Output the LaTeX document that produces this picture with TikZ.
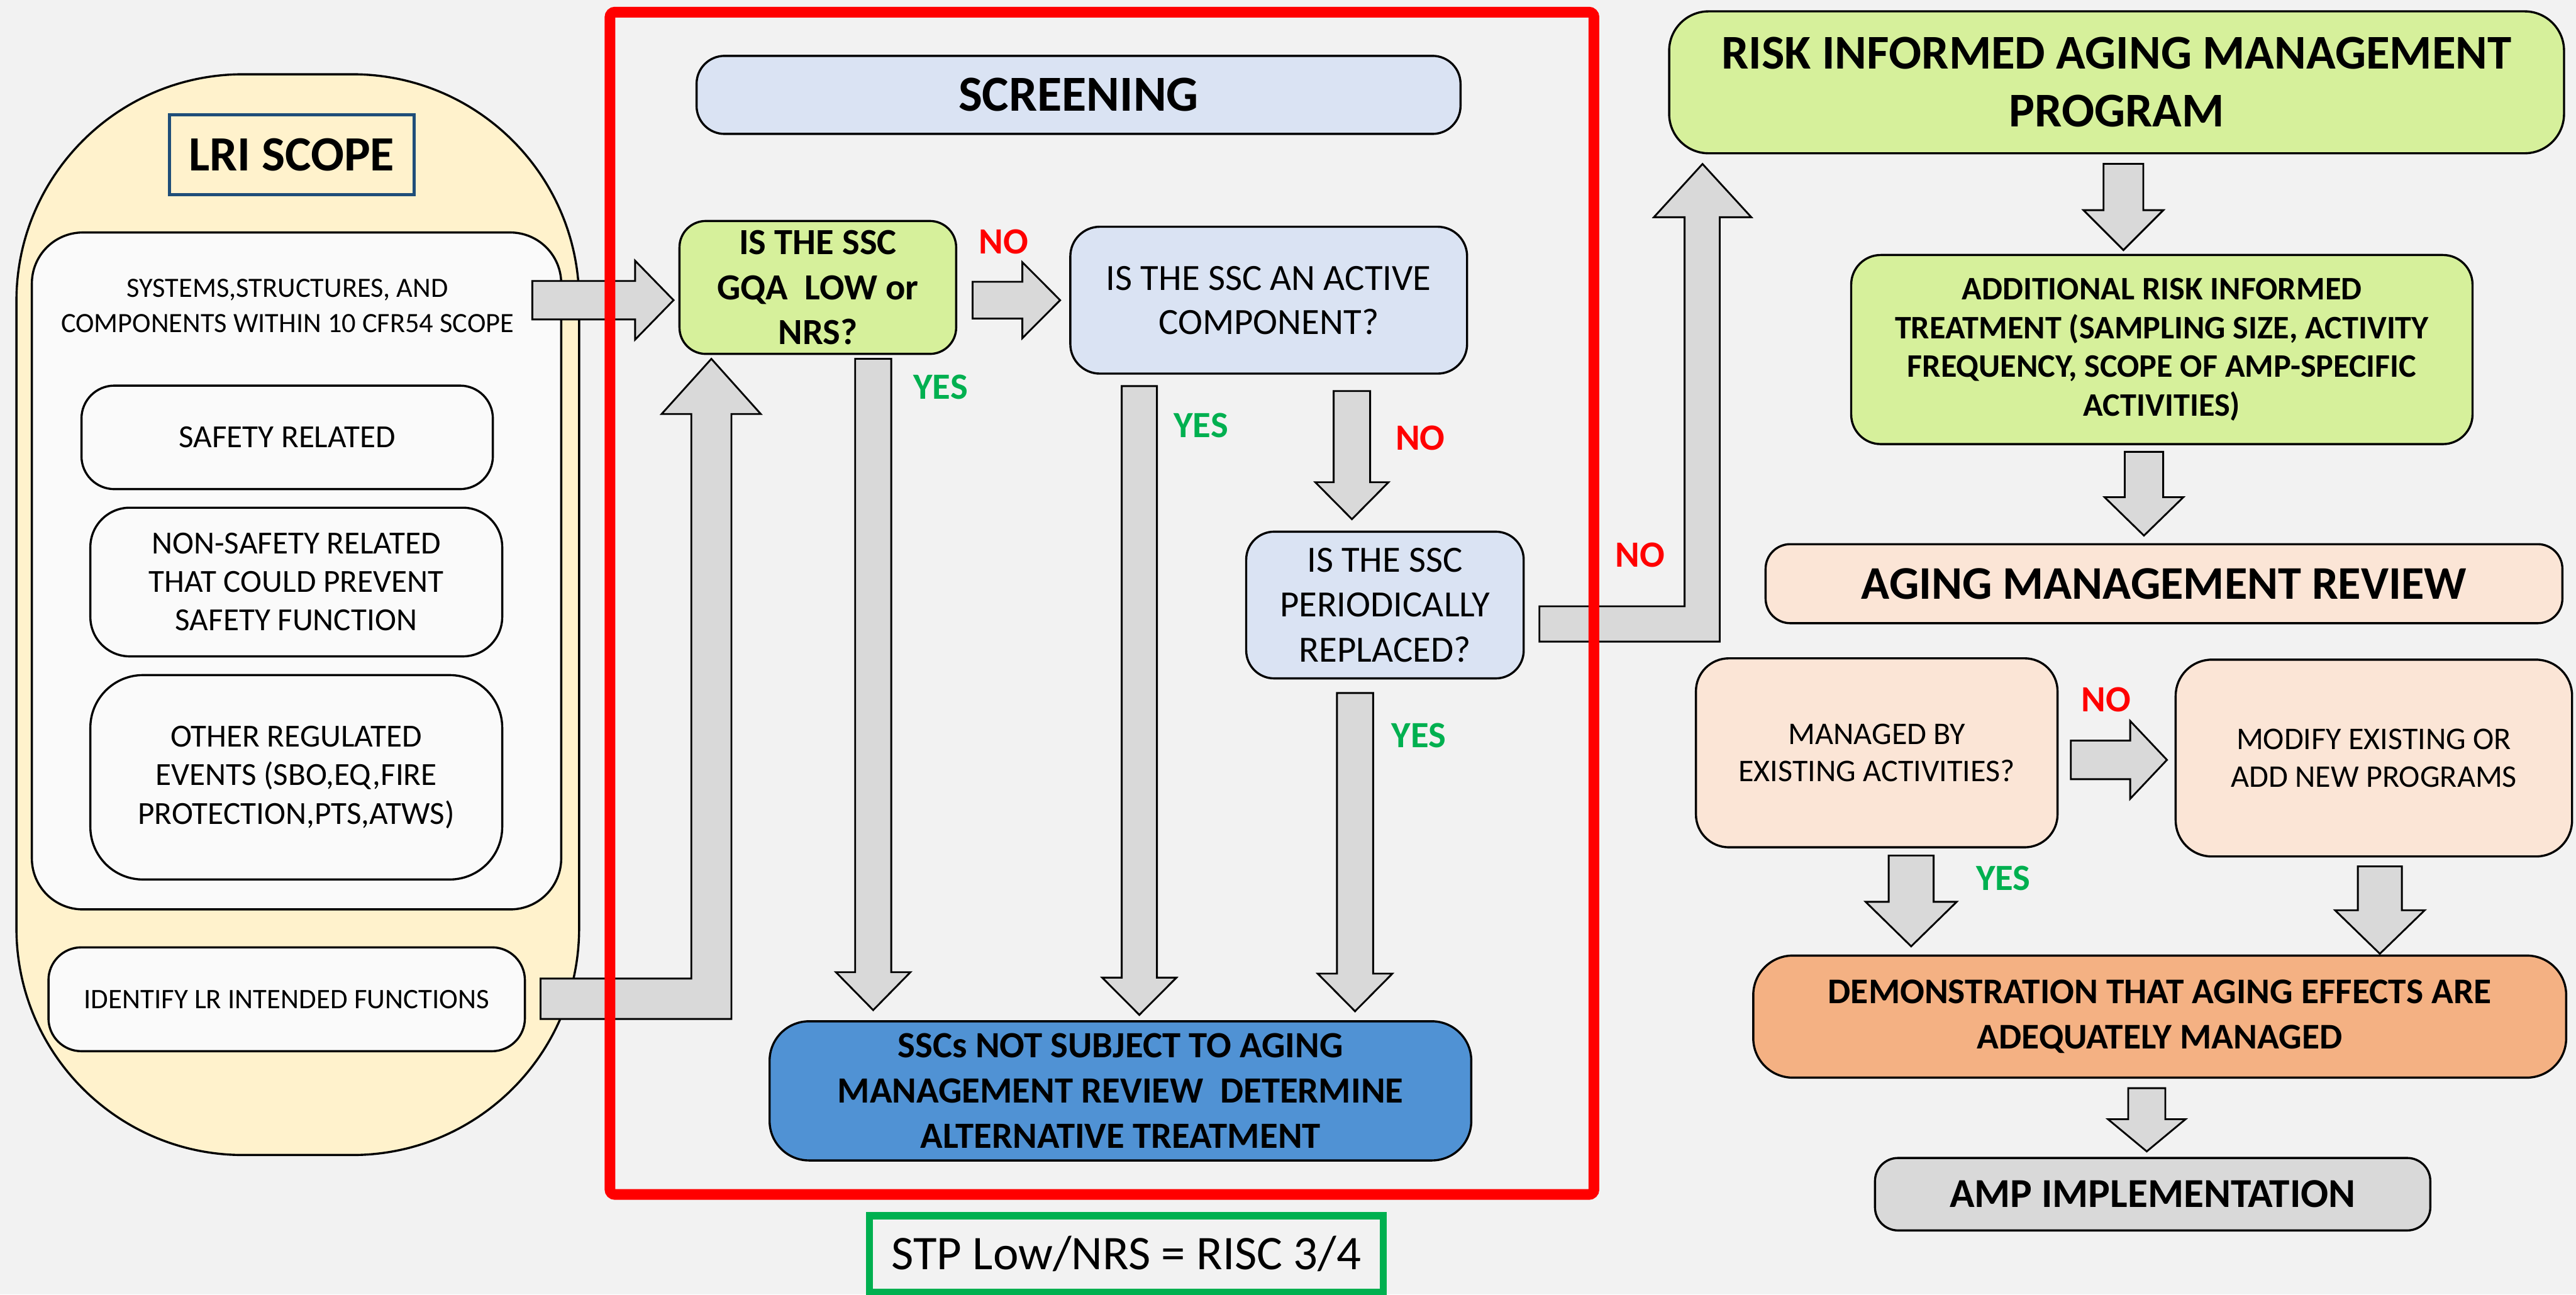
\documentclass[tikz,border=0pt]{standalone}
\usepackage{fontspec}
\setmainfont{Carlito}
\usetikzlibrary{calc}
\definecolor{bg}{HTML}{F2F2F2}
\definecolor{capsule}{HTML}{FFF2CC}
\definecolor{whitebox}{HTML}{FAFAFA}
\definecolor{lriblue}{HTML}{1F4E79}
\definecolor{lightblue}{HTML}{DAE3F3}
\definecolor{lightgreen}{RGB}{214,240,155}
\definecolor{midblue}{RGB}{80,146,212}
\definecolor{peach}{HTML}{FBE5D6}
\definecolor{demoorange}{HTML}{F4B183}
\definecolor{arrowgray}{HTML}{D9D9D9}
\definecolor{redframe}{HTML}{FF0000}
\definecolor{greentxt}{HTML}{00B050}
\newcommand{\fz}[2]{\fontsize{#1}{#2}\selectfont}
% down block arrow: start, tip, half body width, half head width, head length
\newcommand{\blkdown}[5]{\filldraw[blkarrow] ($(#1)+(-#3,0)$) -- ($(#2)+(-#3,-#5)$) -- ($(#2)+(-#4,-#5)$) -- (#2) -- ($(#2)+(#4,-#5)$) -- ($(#2)+(#3,-#5)$) -- ($(#1)+(#3,0)$) -- cycle;}
% right block arrow
\newcommand{\blkright}[5]{\filldraw[blkarrow] ($(#1)+(0,-#3)$) -- ($(#2)+(-#5,-#3)$) -- ($(#2)+(-#5,-#4)$) -- (#2) -- ($(#2)+(-#5,#4)$) -- ($(#2)+(-#5,#3)$) -- ($(#1)+(0,#3)$) -- cycle;}
\begin{document}
\begin{tikzpicture}[x=1pt,y=-1pt,
  rbox/.style={draw=black,line width=1.3pt,align=center,inner sep=0pt,outer sep=0pt},
  blkarrow/.style={draw=black,line width=1.1pt,fill=arrowgray,line join=miter},
  yeslbl/.style={text=greentxt,font=\fz{22.5}{27}\bfseries,inner sep=0pt},
  nolbl/.style={text=redframe,font=\fz{22.5}{27}\bfseries,inner sep=0pt}]
\useasboundingbox (0,0) rectangle (1568,788);
\fill[bg] (0,0) rectangle (1568,788);

% ---------- LRI scope column ----------
\node[rbox,fill=capsule,rounded corners=138pt,minimum width=342.5pt,minimum height=657.8pt] (lri) at (181.25,374.1) {};
\node[draw=lriblue,line width=1.9pt,fill=capsule,minimum width=149pt,minimum height=48.9pt,inner sep=0pt,font=\fz{30}{36}\bfseries] (lrititle) at (177.5,94.15) {LRI SCOPE};
\node[rbox,fill=whitebox,rounded corners=31pt,minimum width=322.2pt,minimum height=412pt] (scopebox) at (180.5,347.5) {};
\node[align=center,inner sep=0pt,font=\fz{17}{21.3}] (scopetxt) at (175,186.2) {SYSTEMS,STRUCTURES, AND\\COMPONENTS WITHIN 10 CFR54 SCOPE};
\node[rbox,fill=whitebox,rounded corners=20pt,minimum width=250.4pt,minimum height=63pt,font=\fz{19.6}{23.3}] (safety) at (174.8,266.2) {SAFETY RELATED};
\node[rbox,fill=whitebox,rounded corners=24pt,minimum width=250.7pt,minimum height=90.5pt,font=\fz{19.6}{23.3}] (nonsafety) at (180.35,354.25) {NON-SAFETY RELATED\\THAT COULD PREVENT\\SAFETY FUNCTION};
\node[rbox,fill=whitebox,rounded corners=32pt,minimum width=250.7pt,minimum height=124.4pt,font=\fz{19.6}{23.5}] (other) at (180.35,473.1) {OTHER REGULATED\\EVENTS (SBO,EQ,FIRE\\PROTECTION,PTS,ATWS)};
\node[rbox,fill=whitebox,rounded corners=20pt,minimum width=290pt,minimum height=63.2pt,font=\fz{17.2}{21}] (identify) at (174.5,608.2) {IDENTIFY LR INTENDED FUNCTIONS};

% ---------- Screening ----------
\node[rbox,fill=lightblue,rounded corners=17pt,minimum width=465pt,minimum height=47.5pt,font=\fz{30.7}{36}\bfseries] (screening) at (656.5,57.75) {SCREENING};
\node[rbox,fill=lightgreen,rounded corners=16pt,minimum width=168.4pt,minimum height=80.9pt,font=\fz{22.4}{27.3}\bfseries] (gqa) at (497.8,174.95) {IS THE SSC\\GQA\ \ LOW or\\NRS?};
\node[rbox,fill=lightblue,rounded corners=18pt,minimum width=241.5pt,minimum height=89.4pt,font=\fz{22.5}{26.7}] (active) at (772.25,182.7) {IS THE SSC AN ACTIVE\\COMPONENT?};
\node[rbox,fill=lightblue,rounded corners=17pt,minimum width=168.9pt,minimum height=89.3pt,font=\fz{22.5}{27.5}] (period) at (843,368.25) {IS THE SSC\\PERIODICALLY\\REPLACED?};
\node[rbox,fill=midblue,rounded corners=24pt,minimum width=427.1pt,minimum height=84.7pt,font=\fz{22.5}{27.5}\bfseries] (notsubj) at (682,663.95) {SSCs NOT SUBJECT TO AGING\\MANAGEMENT REVIEW\ \ DETERMINE\\ALTERNATIVE TREATMENT};
\node[draw=greentxt,line width=4.3pt,minimum width=312.7pt,minimum height=46.5pt,inner sep=0pt,font=\fz{29.4}{35}] (stp) at (685.65,763.25) {STP Low/NRS = RISC 3/4};

% ---------- Right column ----------
\node[rbox,fill=lightgreen,rounded corners=24pt,minimum width=544.7pt,minimum height=86.4pt,font=\fz{29.5}{35.3}\bfseries] (risk) at (1288.35,50.1) {RISK INFORMED AGING MANAGEMENT\\PROGRAM};
\node[rbox,fill=lightgreen,rounded corners=18pt,minimum width=378.2pt,minimum height=115.1pt,font=\fz{20}{23.6}\bfseries] (additional) at (1315.9,212.75) {ADDITIONAL RISK INFORMED\\TREATMENT (SAMPLING SIZE, ACTIVITY\\FREQUENCY, SCOPE OF AMP-SPECIFIC\\ACTIVITIES)};
\node[rbox,fill=peach,rounded corners=15pt,minimum width=485pt,minimum height=48.1pt,font=\fz{28.5}{34}\bfseries] (amr) at (1317.2,355.25) {AGING MANAGEMENT REVIEW};
\node[rbox,fill=peach,rounded corners=20pt,minimum width=220.1pt,minimum height=115pt,font=\fz{19.2}{22.7}] (managed) at (1142.35,458.2) {MANAGED BY\\EXISTING ACTIVITIES?};
\node[rbox,fill=peach,rounded corners=22pt,minimum width=241.3pt,minimum height=119.8pt,font=\fz{19.2}{23}] (modify) at (1444.95,461.4) {MODIFY EXISTING OR\\ADD NEW PROGRAMS};
\node[rbox,fill=demoorange,rounded corners=24pt,minimum width=494.8pt,minimum height=74.3pt,font=\fz{22}{27.5}\bfseries] (demo) at (1314.6,618.75) {DEMONSTRATION THAT AGING EFFECTS ARE\\ADEQUATELY MANAGED};
\node[rbox,fill=arrowgray,rounded corners=14pt,minimum width=338pt,minimum height=44.1pt,font=\fz{25}{30}\bfseries] (amp) at (1310.3,726.85) {AMP IMPLEMENTATION};

% ---------- Block arrows ----------
\coordinate (d1s) at (531.5,218.4);  \coordinate (d1t) at (531.5,614.8);
\coordinate (d2s) at (693.5,235);    \coordinate (d2t) at (693.5,617.7);
\coordinate (d3s) at (822.9,238);    \coordinate (d3t) at (822.9,316);
\coordinate (d4s) at (824.8,421.8);  \coordinate (d4t) at (824.8,615.5);
\coordinate (d5s) at (1292.5,99.7);  \coordinate (d5t) at (1292.5,152.2);
\coordinate (d6s) at (1305,275);     \coordinate (d6t) at (1305,326);
\coordinate (d7s) at (1163.3,520.7); \coordinate (d7t) at (1163.3,576);
\coordinate (d8s) at (1448.6,527.3); \coordinate (d8t) at (1448.6,580.5);
\coordinate (d9s) at (1306.7,662.3); \coordinate (d9t) at (1306.7,700.8);
\coordinate (r1s) at (324,182.7);    \coordinate (r1t) at (410,182.7);
\coordinate (r2s) at (592,182.7);    \coordinate (r2t) at (645.3,182.7);
\coordinate (r3s) at (1260.5,462.5); \coordinate (r3t) at (1319,462.5);

\blkdown{d1s}{d1t}{11}{22.7}{23.1}
\blkdown{d2s}{d2t}{10.7}{22.6}{22.7}
\blkdown{d3s}{d3t}{11.1}{22.3}{22.5}
\blkdown{d4s}{d4t}{11}{22.7}{22.9}
\blkdown{d5s}{d5t}{12.1}{24.3}{24.3}
\blkdown{d6s}{d6t}{11.7}{24}{23.4}
\blkdown{d7s}{d7t}{13.7}{27.7}{27.1}
\blkdown{d8s}{d8t}{13.4}{27.3}{26.5}
\blkdown{d9s}{d9t}{11.3}{23.6}{19.6}
\blkright{r1s}{r1t}{11.7}{24}{23.4}
\blkright{r2s}{r2t}{11.2}{23.1}{23}
\blkright{r3s}{r3t}{11.75}{23.7}{22.4}

% L-shaped arrow: identify -> gqa
\filldraw[blkarrow] (329,595.6) -- (420.8,595.6) -- (420.8,252) -- (402.7,252) -- (433,218.4) -- (463.1,252) -- (445.2,252) -- (445.2,620.2) -- (329,620.2) -- cycle;
% L-shaped arrow: period -> risk
\filldraw[blkarrow] (937,369) -- (1025.4,369) -- (1025.4,132.2) -- (1006.7,132.2) -- (1036.3,99.8) -- (1066,132.2) -- (1046.8,132.2) -- (1046.8,390.5) -- (937,390.5) -- cycle;

% ---------- Red screening frame ----------
\node[draw=redframe,line width=6.5pt,rounded corners=3pt,minimum width=598.9pt,minimum height=719.6pt,inner sep=0pt] (screenframe) at (670.75,367.2) {};

% ---------- Labels ----------
\node[nolbl] (no1) at (611,147) {NO};
\node[yeslbl] (yes1) at (572.5,235.4) {YES};
\node[yeslbl] (yes2) at (731,259) {YES};
\node[nolbl] (no2) at (864.5,266.7) {NO};
\node[yeslbl] (yes3) at (863.5,447.7) {YES};
\node[nolbl] (no3) at (998.2,337.7) {NO};
\node[nolbl] (no4) at (1282,425.8) {NO};
\node[yeslbl] (yes4) at (1219.4,534.5) {YES};
\end{tikzpicture}
\end{document}
